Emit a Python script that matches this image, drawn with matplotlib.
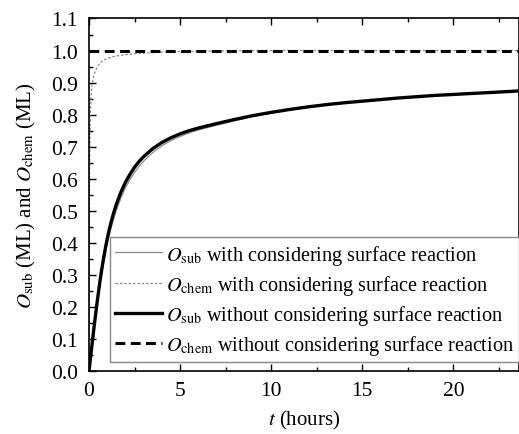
import matplotlib
matplotlib.use("Agg")
import matplotlib.pyplot as plt
from matplotlib.ticker import MultipleLocator, FormatStrFormatter

# time (hours) for the O_sub curves
t_sub = [0, 0.1, 0.2, 0.3, 0.4, 0.5, 0.6, 0.7, 0.8, 0.9, 1.0, 1.1, 1.2, 1.3,
         1.4, 1.5, 1.75, 2.0, 2.25, 2.5, 2.75, 3.0, 3.5, 4.0, 4.5, 5.0, 5.5,
         6.0, 7.0, 8.0, 9.0, 10.0, 11.0, 12.0, 13.0, 14.0, 15.0, 16.0, 17.0,
         18.0, 19.0, 20.0, 21.0, 22.0, 23.0, 23.6]
sub_without = [0, 0.05, 0.1, 0.148, 0.194, 0.238, 0.28, 0.318, 0.352, 0.384,
               0.413, 0.439, 0.462, 0.483, 0.502, 0.52, 0.558, 0.589, 0.614,
               0.636, 0.654, 0.669, 0.694, 0.713, 0.728, 0.74, 0.75, 0.758,
               0.772, 0.785, 0.797, 0.807, 0.816, 0.824, 0.831, 0.837, 0.842,
               0.847, 0.852, 0.856, 0.86, 0.863, 0.866, 0.869, 0.872, 0.874]
sub_with = [0, 0.048, 0.096, 0.142, 0.186, 0.228, 0.268, 0.304, 0.337, 0.367,
            0.395, 0.42, 0.443, 0.464, 0.483, 0.501, 0.54, 0.572, 0.598, 0.62,
            0.639, 0.655, 0.682, 0.703, 0.719, 0.732, 0.743, 0.752, 0.767,
            0.781, 0.794, 0.805, 0.815, 0.823, 0.83, 0.836, 0.842, 0.847,
            0.852, 0.856, 0.86, 0.863, 0.866, 0.869, 0.872, 0.874]

# time (hours) for the O_chem curves
t_chem = [0, 0.01, 0.02, 0.04, 0.06, 0.08, 0.1, 0.13, 0.16, 0.2, 0.25, 0.3,
          0.4, 0.5, 0.6, 0.8, 1.0, 1.25, 1.5, 2.0, 2.5, 3.0, 4.0, 5.0, 6.0,
          8.0, 10.0, 12.0, 23.6]
chem_with = [0, 0.3, 0.5, 0.68, 0.76, 0.81, 0.84, 0.87, 0.89, 0.905, 0.918,
             0.928, 0.942, 0.953, 0.961, 0.97, 0.975, 0.98, 0.983, 0.987, 0.99,
             0.992, 0.995, 0.997, 0.998, 0.999, 1.0, 1.0, 1.0]
chem_without = [1.0] * len(t_chem)

labels = [r"$O_{\rm sub}$ with considering surface reaction",
          r"$O_{\rm chem}$ with considering surface reaction",
          r"$O_{\rm sub}$ without considering surface reaction",
          r"$O_{\rm chem}$ without considering surface reaction"]

plt.rcParams['font.family'] = ['Liberation Serif', 'DejaVu Serif']
plt.rcParams['mathtext.fontset'] = 'stix'

fig = plt.figure(figsize=(5.19, 4.35), dpi=100)
ax = fig.add_axes([0.1715, 0.1448, 0.8285, 0.8104])

ax.plot(t_sub, sub_with, color='#8a8a8a', lw=0.9, label=labels[0])
ax.plot(t_chem, chem_with, color='#8a8a8a', lw=0.9, linestyle=(0, (2, 1.5)),
        label=labels[1])
ax.plot(t_sub, sub_without, color='black', lw=2.4, label=labels[2])
ax.plot(t_chem, chem_without, color='black', lw=2.2, linestyle=(0, (3.2, 1.8)),
        label=labels[3])

ax.set_xlim(0, 23.6)
ax.set_ylim(0, 1.1)
ax.xaxis.set_major_locator(MultipleLocator(5))
ax.xaxis.set_minor_locator(MultipleLocator(2.5))
ax.yaxis.set_major_locator(MultipleLocator(0.1))
ax.yaxis.set_minor_locator(MultipleLocator(0.05))
ax.yaxis.set_major_formatter(FormatStrFormatter('%.1f'))
ax.tick_params(which='both', direction='in', top=True, right=False, labelsize=15.5)
ax.tick_params(which='major', length=5, width=1)
ax.tick_params(which='minor', length=3, width=1)
ax.tick_params(axis='y', pad=8)
ax.tick_params(axis='x', pad=7)
for s in ax.spines.values():
    s.set_linewidth(1.2)

ax.set_xlabel(r"$t$ (hours)", fontsize=15, labelpad=6)
ax.set_ylabel(r"$O_{\rm sub}$ (ML) and $O_{\rm chem}$ (ML)", fontsize=15,
              labelpad=9)

leg = ax.legend(loc='lower left', bbox_to_anchor=(0.049, 0.026), borderaxespad=0,
                fontsize=14.6, frameon=True, fancybox=False, edgecolor='#888888',
                framealpha=1, handlelength=2.3, handletextpad=0.2,
                labelspacing=0.3, borderpad=0.25)
leg.get_frame().set_linewidth(1.0)

fig.savefig("out.png", dpi=100)
